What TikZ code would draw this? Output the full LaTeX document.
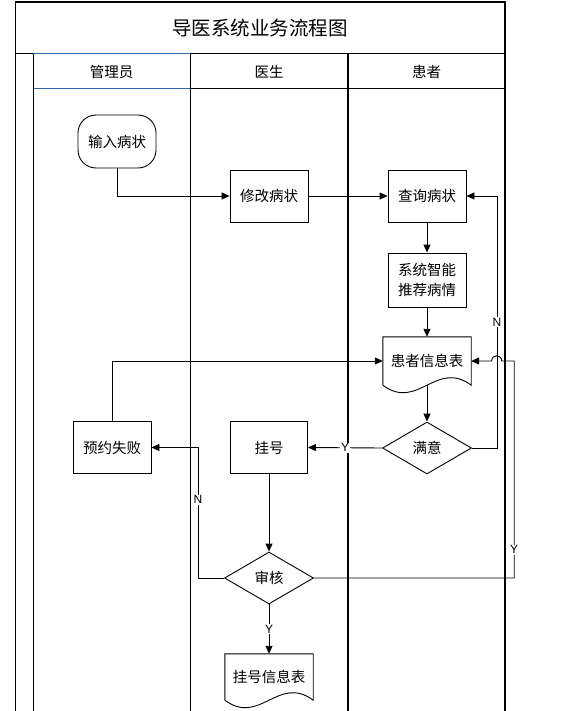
\documentclass[tikz,border=0pt]{standalone}
\usepackage{fontspec}
\setmainfont{Noto Sans CJK SC}
\newfontfamily\latinfont{Liberation Sans}
\usepackage{xcolor}
\usetikzlibrary{arrows.meta,positioning,shapes.geometric,calc}

\definecolor{laneblue}{RGB}{46,104,166}

\begin{document}
\begin{tikzpicture}[
    x=1pt, y=-1pt,
    frame/.style={line width=1pt},
    lanehead/.style={rectangle, minimum width=157pt, minimum height=35pt, font=\fontsize{14.5}{16}\selectfont},
    proc/.style={rectangle, draw, line width=0.9pt, minimum width=78pt, minimum height=52pt, align=center, font=\fontsize{14.5}{20}\selectfont},
    startbox/.style={proc, minimum height=53pt, rounded corners=18pt},
    check/.style={diamond, draw, line width=0.9pt, minimum width=89pt, minimum height=52pt, inner sep=0pt, font=\fontsize{14.5}{18}\selectfont},
    doc/.style={rectangle, minimum width=88pt, minimum height=48pt, font=\fontsize{14.5}{18}\selectfont},
    docline/.style={line width=0.9pt},
    yn/.style={fill=white, inner sep=1pt, font=\latinfont\fontsize{12}{12}\selectfont},
    arrow/.style={-{Triangle[length=8pt,width=7pt]}, line width=0.9pt}
]
\useasboundingbox (0,0) rectangle (563,711);

% swimlane frame
\draw[line width=2pt] (15,2) -- (505,2);
\draw[frame] (15,1) -- (15,711);
\draw[line width=1.6pt] (505,1) -- (505,711);
\draw[frame] (15,54) -- (33,54);
\draw[frame, draw=laneblue] (33,54) -- (190,54);
\draw[frame] (190,54) -- (505,54);
\draw[frame, draw=laneblue] (33,89) -- (190,89);
\draw[frame] (190,89) -- (505,89);
\draw[frame] (33,54) -- (33,711);
\draw[frame] (190,54) -- (190,711);
\draw[line width=2pt] (348,54) -- (348,711);

\node[font=\fontsize{19.5}{20}\selectfont] (title) at (260,28) {导医系统业务流程图};
\node[lanehead] (admin) at (111.5,71.5) {管理员};
\node[lanehead] (doctor) at (269,71.5) {医生};
\node[lanehead] (patient) at (426.5,71.5) {患者};

\node[startbox] (input) at (117,141.5) {输入病状};
\node[proc] (modify) at (269,196) {修改病状};
\node[proc] (query) at (427,196) {查询病状};
\node[proc, minimum height=54pt] (recommend) at (427,280) {系统智能\\推荐病情};
\node[doc] (pinfo) at (427,361) {患者信息表};
\node[check] (satisfy) at (427,448) {满意};
\node[proc, minimum width=77pt] (reg) at (269,447.5) {挂号};
\node[proc] (fail) at (112,447.5) {预约失败};
\node[check] (audit) at (269,578) {审核};
\node[doc, minimum height=46pt] (reginfo) at (269,677) {挂号信息表};

\draw[docline] (pinfo.south west) -- (pinfo.north west) -- (pinfo.north east) -- (pinfo.south east)
    .. controls +(-35,-26) and +(35,26) .. (pinfo.south west);
\draw[docline] (reginfo.south west) -- (reginfo.north west) -- (reginfo.north east) -- (reginfo.south east)
    .. controls +(-35,-26) and +(35,26) .. (reginfo.south west);

\draw[arrow] (input.south) |- (modify.west);
\draw[arrow] (modify) -- (query);
\draw[arrow] (query) -- (recommend);
\draw[arrow] (recommend) -- (pinfo);
\draw[arrow] (pinfo.south) -- (satisfy.north);
\draw[arrow] (satisfy.east) -- ++(25,0) |- node[pos=0.25, yn] {N} (query.east);
\draw[arrow] (satisfy.west) -- node[yn] {Y} (reg.east);
\draw[arrow] (fail.north) |- (pinfo.west);
\draw[arrow] (reg) -- (audit);
\draw[arrow] (audit.west) -- ++(-26,0) |- node[pos=0.3, yn] {N} (fail.east);
\draw[arrow] (audit.east) -| node[pos=0.565, yn] {Y} ($(pinfo.east)+(43,0)$)
    -- ($(pinfo.east)+(30.5,0)$) .. controls +(0,-7) and +(0,-7) .. ($(pinfo.east)+(20.5,0)$) -- (pinfo.east);
\draw[arrow] (audit) -- node[yn] {Y} (reginfo);
\end{tikzpicture}
\end{document}
